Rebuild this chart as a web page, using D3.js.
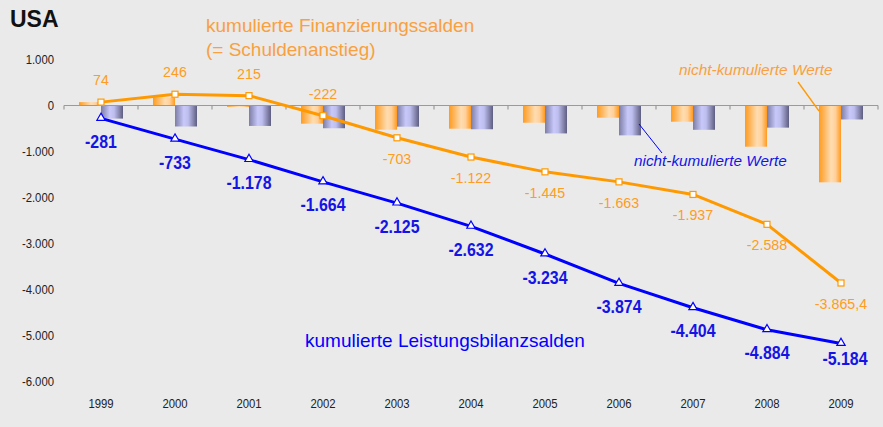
<!DOCTYPE html>
<html><head><meta charset="utf-8">
<script src="https://cdn.jsdelivr.net/npm/d3@7"></script>
<style>
html,body{margin:0;padding:0;background:#EAEAEA;}
svg{display:block;}
</style></head>
<body><svg id="c" width="883" height="427"></svg>
<script>
const years = ["1999","2000","2001","2002","2003","2004","2005","2006","2007","2008","2009"];
const finCumulative = [74, 246, 215, -222, -703, -1122, -1445, -1663, -1937, -2588, -3865.4];
const finCumulativeLabels = ["74","246","215","-222","-703","-1.122","-1.445","-1.663","-1.937","-2.588","-3.865,4"];
const caCumulative = [-281, -733, -1178, -1664, -2125, -2632, -3234, -3874, -4404, -4884, -5184];
const caCumulativeLabels = ["-281","-733","-1.178","-1.664","-2.125","-2.632","-3.234","-3.874","-4.404","-4.884","-5.184"];
const finAnnual = [74, 176, -30, -396, -527, -505, -375, -266, -353, -897, -1673];
const caAnnual = [-285, -457, -445, -495, -461, -517, -608, -650, -529, -482, -304];
const yTicks = [1000, 0, -1000, -2000, -3000, -4000, -5000, -6000];
const yTickLabels = ["1.000","0","-1.000","-2.000","-3.000","-4.000","-5.000","-6.000"];

const SANS = "'Liberation Sans',Arial,sans-serif";
const ORANGE = "#FF9900", OTXT = "#F9A03F", OVAL = "#FF9C22", BLUE = "#0000FF", BTXT = "#1414E6";

const svg = d3.select("#c");
const x = d3.scaleBand().domain(years).range([64, 878]).padding(0);
const y = d3.scaleLinear().domain([-6000, 1000]).range([381, 59.6]);
const cx = d => x(d) + x.bandwidth() / 2;
const bw = 22;

// narrow text helper: horizontal compression around anchor point
function narrow(sel, fx, fy, s) {
  return sel.attr("x", 0).attr("y", 0)
    .attr("transform", (d, i) => `translate(${fx(d, i)},${fy(d, i)}) scale(${s},1)`);
}

const defs = svg.append("defs");
const og = defs.append("linearGradient").attr("id","og");
[[0,"#FF9A1E"],[0.55,"#FFDDB2"],[0.75,"#FFD09A"],[1,"#FF9A1E"]].forEach(s=>og.append("stop").attr("offset",s[0]).attr("stop-color",s[1]));
const bg = defs.append("linearGradient").attr("id","bg");
[[0,"#7C7CA4"],[0.4,"#C8C8FA"],[0.6,"#BDBDEE"],[1,"#5E5E80"]].forEach(s=>bg.append("stop").attr("offset",s[0]).attr("stop-color",s[1]));

// Title
svg.append("text").attr("x",10).attr("y",27).attr("font-family",SANS).attr("font-weight","bold")
  .attr("font-size",23).attr("fill","#111").text("USA");

// Y axis labels
narrow(svg.append("g").selectAll("text").data(yTicks).join("text"), d=>54, d=>y(d)+4.5, 0.84)
  .attr("text-anchor","end")
  .attr("font-family",SANS).attr("font-size",13.5).attr("fill","#222")
  .text((d,i)=>yTickLabels[i]);

// bars
const bars = svg.append("g");
bars.selectAll("rect.f").data(years).join("rect").attr("class","f")
  .attr("x",d=>cx(d)-bw).attr("width",bw)
  .attr("y",(d,i)=>Math.min(y(finAnnual[i]),y(0)))
  .attr("height",(d,i)=>Math.abs(y(finAnnual[i])-y(0)))
  .attr("fill","url(#og)");
bars.selectAll("rect.c").data(years).join("rect").attr("class","c")
  .attr("x",d=>cx(d)).attr("width",bw)
  .attr("y",(d,i)=>Math.min(y(caAnnual[i]),y(0)))
  .attr("height",(d,i)=>Math.abs(y(caAnnual[i])-y(0)))
  .attr("fill","url(#bg)");

// X axis
const ax = svg.append("g").attr("transform",`translate(0,${y(0)})`);
ax.append("line").attr("x1",64).attr("x2",878).attr("stroke","#9A9A9A").attr("stroke-width",1.2);
ax.selectAll("line.t").data(years.concat(["end"])).join("line").attr("class","t")
  .attr("x1",(d,i)=>64+i*x.bandwidth()).attr("x2",(d,i)=>64+i*x.bandwidth())
  .attr("y1",0).attr("y2",4).attr("stroke","#9A9A9A").attr("stroke-width",1.2);
// year labels
narrow(svg.append("g").selectAll("text").data(years).join("text"), d=>cx(d), d=>408, 0.84)
  .attr("text-anchor","middle")
  .attr("font-family",SANS).attr("font-size",13.5).attr("fill","#222").text(d=>d);

// lines
const line = d3.line().x((d,i)=>cx(years[i])).y(d=>y(d));
svg.append("path").datum(finCumulative).attr("d",line).attr("fill","none")
  .attr("stroke",ORANGE).attr("stroke-width",3).attr("stroke-linejoin","round");
svg.append("path").datum(caCumulative).attr("d",line).attr("fill","none")
  .attr("stroke",BLUE).attr("stroke-width",3).attr("stroke-linejoin","round");

// markers
svg.append("g").selectAll("rect").data(finCumulative).join("rect")
  .attr("x",(d,i)=>cx(years[i])-3).attr("y",d=>y(d)-3).attr("width",6).attr("height",6)
  .attr("fill","#fff").attr("stroke",ORANGE).attr("stroke-width",1.2);
const tri = d3.symbol().type(d3.symbolTriangle).size(30);
svg.append("g").selectAll("path").data(caCumulative).join("path")
  .attr("transform",(d,i)=>`translate(${cx(years[i])},${y(d)-0.5})`).attr("d",tri)
  .attr("fill","#fff").attr("stroke",BLUE).attr("stroke-width",1.2);

// value labels
narrow(svg.append("g").selectAll("text").data(finCumulative).join("text"),
  (d,i)=>cx(years[i]), (d,i)=> i<4 ? y(d)-17 : y(d)+26, 0.92)
  .attr("text-anchor","middle").attr("font-family",SANS).attr("font-size",15.5)
  .attr("fill",OVAL).text((d,i)=>finCumulativeLabels[i]);
narrow(svg.append("g").selectAll("text").data(caCumulative).join("text"),
  (d,i)=>cx(years[i]) + (i===10?4:0), (d,i)=> y(d)+ (i===10?21:29.5), 0.9)
  .attr("text-anchor","middle").attr("font-family",SANS).attr("font-size",17.7).attr("font-weight","bold")
  .attr("fill",BTXT).text((d,i)=>caCumulativeLabels[i]);

// annotations
const ann = svg.append("g").attr("font-family",SANS);
ann.append("text").attr("x",206).attr("y",32).attr("font-size",19).attr("fill",OTXT).text("kumulierte Finanzierungssalden");
ann.append("text").attr("x",206).attr("y",56).attr("font-size",19).attr("fill",OTXT).text("(= Schuldenanstieg)");
ann.append("text").attr("x",305).attr("y",347).attr("font-size",19).attr("fill",BLUE).text("kumulierte Leistungsbilanzsalden");
ann.append("text").attr("x",679).attr("y",75).attr("font-size",15.4).attr("font-style","italic").attr("fill",OTXT).text("nicht-kumulierte Werte");
ann.append("text").attr("x",634).attr("y",166).attr("font-size",15.3).attr("font-style","italic").attr("fill",BTXT).text("nicht-kumulierte Werte");
svg.append("line").attr("x1",798).attr("y1",82).attr("x2",819).attr("y2",111).attr("stroke",ORANGE).attr("stroke-width",1.3);
svg.append("line").attr("x1",639).attr("y1",124).attr("x2",662).attr("y2",153).attr("stroke",BLUE).attr("stroke-width",1);
</script></body></html>
